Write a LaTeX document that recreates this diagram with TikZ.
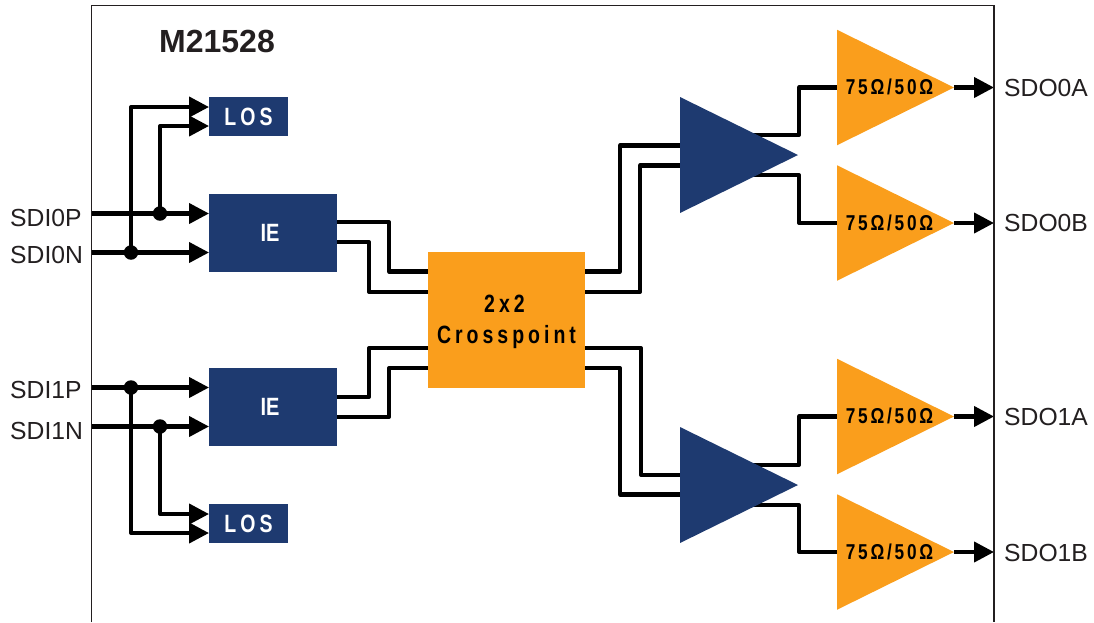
\documentclass[tikz,border=0pt]{standalone}
\usepackage{fontspec}
\setmainfont{Liberation Sans}
\newfontfamily\blockfont[FakeStretch=.78,LetterSpace=16]{Liberation Sans}
\newfontfamily\iefont[FakeStretch=.8]{Liberation Sans}
\newfontfamily\ampfont[FakeStretch=.8,LetterSpace=13]{Liberation Sans}
\usetikzlibrary{arrows.meta,shapes.geometric}
\definecolor{navy}{RGB}{30,58,112}
\definecolor{amber}{RGB}{250,158,28}
\definecolor{ink}{RGB}{35,31,32}
\pgfdeclarelayer{wires}
\pgfsetlayers{wires,main}
\tikzset{
  box/.style={rectangle,inner sep=0pt,outer sep=0pt,anchor=north west},
  navybox/.style={box,fill=navy,text=white,font=\blockfont\bfseries\fontsize{25}{28}\selectfont},
  iebox/.style={box,fill=navy,text=white,font=\iefont\bfseries\fontsize{25}{28}\selectfont},
  amberbox/.style={box,fill=amber,text=black,align=center,font=\blockfont\bfseries\fontsize{25}{31}\selectfont},
  tri/.style={isosceles triangle,isosceles triangle stretches,inner sep=0pt,outer sep=0pt,anchor=lower side,shape border rotate=0},
  bigamp/.style={tri,fill=navy,minimum width=116pt,minimum height=118pt},
  outamp/.style={tri,fill=amber,minimum width=115.5pt,minimum height=117pt},
  amptext/.style={inner sep=0pt,text=black,font=\ampfont\bfseries\fontsize{21.5}{24}\selectfont},
  wire/.style={line width=4.1pt,black,line join=round},
  arrowwire/.style={wire,-{Triangle[length=20pt,width=20pt]}},
  junction/.style={circle,fill=black,inner sep=0pt,minimum size=14.5pt},
  pinlabel/.style={inner sep=0pt,text=ink,font=\fontsize{24.7}{28}\selectfont},
}
\begin{document}
\begin{tikzpicture}[x=1pt,y=-1pt]
\useasboundingbox (0,0) rectangle (1094,622);
\draw[line width=1.6pt,ink] (91.5,622) -- (91.5,5.5) -- (994,5.5) -- (994,622);
\node[inner sep=0pt,text=ink,font=\bfseries\fontsize{32}{36}\selectfont] (title) at (217,41) {M21528};
% blocks
\node[navybox,minimum width=79pt,minimum height=39pt] (los0) at (209,97) {LOS};
\node[iebox,minimum width=128pt,minimum height=78pt] (ie0) at (209,194) {IE\kern6pt};
\node[iebox,minimum width=128pt,minimum height=78pt] (ie1) at (209,368) {IE\kern6pt};
\node[navybox,minimum width=79pt,minimum height=39pt] (los1) at (209,504) {LOS};
\node[amberbox,minimum width=157pt,minimum height=136pt] (xp) at (428,252) {\rule{0pt}{22pt}2x2\kern4pt\\Crosspoint};
\node[bigamp] (drv0) at (680,155) {};
\node[bigamp] (drv1) at (680,485) {};
\node[outamp] (a0) at (837,87.5) {};
\node[outamp] (b0) at (837,223) {};
\node[outamp] (a1) at (837,416.5) {};
\node[outamp] (b1) at (837,552) {};
\node[amptext] (a0t) at (889.5,87) {75Ω/50Ω};
\node[amptext] (b0t) at (889.5,223) {75Ω/50Ω};
\node[amptext] (a1t) at (889.5,416) {75Ω/50Ω};
\node[amptext] (b1t) at (889.5,552) {75Ω/50Ω};
% pin labels
\node[pinlabel,anchor=west] (sdi0p) at (10,218) {SDI0P};
\node[pinlabel,anchor=west] (sdi0n) at (10,255) {SDI0N};
\node[pinlabel,anchor=west] (sdi1p) at (10,390) {SDI1P};
\node[pinlabel,anchor=west] (sdi1n) at (10,430.5) {SDI1N};
\node[pinlabel,anchor=west] (sdo0a) at (1004,88) {SDO0A};
\node[pinlabel,anchor=west] (sdo0b) at (1004,223) {SDO0B};
\node[pinlabel,anchor=west] (sdo1a) at (1004,417) {SDO1A};
\node[pinlabel,anchor=west] (sdo1b) at (1004,553) {SDO1B};
% junctions
\node[junction] (j0p) at (160,213.5) {};
\node[junction] (j0n) at (131,252.5) {};
\node[junction] (j1p) at (131,387.5) {};
\node[junction] (j1n) at (160,426.5) {};
% free ends
\coordinate (p0p) at (91,213.5);
\coordinate (p0n) at (91,252.5);
\coordinate (p1p) at (91,387.5);
\coordinate (p1n) at (91,426.5);
\begin{pgfonlayer}{wires}
% inputs
\draw[arrowwire] (p0p) -- (p0p -| ie0.west);
\draw[arrowwire] (p0n) -- (p0n -| ie0.west);
\draw[arrowwire] (p1p) -- (p1p -| ie1.west);
\draw[arrowwire] (p1n) -- (p1n -| ie1.west);
\draw[arrowwire] (j0n.center) -- (131,107) -- (los0.west |- 0,107);
\draw[arrowwire] (j0p.center) -- (160,126) -- (los0.west |- 0,126);
\draw[arrowwire] (j1p.center) -- (131,533) -- (los1.west |- 0,533);
\draw[arrowwire] (j1n.center) -- (160,514) -- (los1.west |- 0,514);
% IE to crosspoint
\draw[wire] (ie0.east |- 0,222) -- (389,222) -- (389,271.5) -- (xp.west |- 0,271.5);
\draw[wire] (ie0.east |- 0,242) -- (369,242) -- (369,292) -- (xp.west |- 0,292);
\draw[wire] (ie1.east |- 0,397) -- (369,397) -- (369,348) -- (xp.west |- 0,348);
\draw[wire] (ie1.east |- 0,417) -- (389,417) -- (389,368) -- (xp.west |- 0,368);
% crosspoint to drivers
\draw[wire] (xp.east |- 0,271.5) -- (620,271.5) -- (620,145.5) -- (drv0.lower side |- 0,145.5);
\draw[wire] (xp.east |- 0,292) -- (640,292) -- (640,165.5) -- (drv0.lower side |- 0,165.5);
\draw[wire] (xp.east |- 0,348) -- (641,348) -- (641,475) -- (drv1.lower side |- 0,475);
\draw[wire] (xp.east |- 0,368) -- (620,368) -- (620,494.5) -- (drv1.lower side |- 0,494.5);
% drivers to output amps
\draw[wire] (745,135) -- (799,135) -- (799,87.5) -- (a0.lower side);
\draw[wire] (745,175) -- (799,175) -- (799,223) -- (b0.lower side);
\draw[wire] (745,465) -- (799,465) -- (799,416.5) -- (a1.lower side);
\draw[wire] (745,505) -- (799,505) -- (799,552) -- (b1.lower side);
% outputs
\draw[arrowwire] (a0.apex) -- (994,87.5);
\draw[arrowwire] (b0.apex) -- (994,223);
\draw[arrowwire] (a1.apex) -- (994,416.5);
\draw[arrowwire] (b1.apex) -- (994,552);
\end{pgfonlayer}
\end{tikzpicture}
\end{document}
